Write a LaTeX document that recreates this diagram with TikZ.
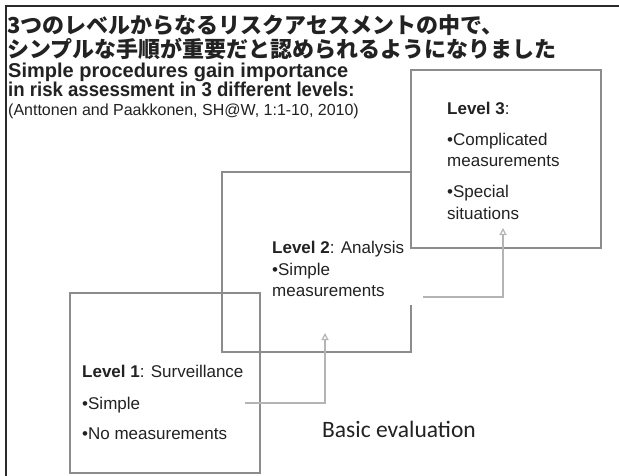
\documentclass[tikz,border=0pt]{standalone}
\usepackage{fontspec}
\usepackage{graphicx}
\setmainfont{Liberation Sans}
\newfontfamily\jp{Noto Sans CJK JP}
\newfontfamily\calib{Carlito}
\usetikzlibrary{arrows.meta}
\definecolor{frameC}{HTML}{2A2A2A}
\definecolor{boxC}{HTML}{8C8C8C}
\definecolor{arrC}{HTML}{B4B4B4}
\definecolor{txtC}{HTML}{222222}
\tikzset{
  lvlbox/.style={draw=boxC, line width=1.3pt},
  flow/.style={draw=arrC, line width=1.2pt, -{Triangle[open, length=7pt, width=7pt]}},
  bodytxt/.style={anchor=base west, inner sep=0pt, text=txtC, font=\fontsize{17}{20}\selectfont},
  jptxt/.style={anchor=base west, inner sep=0pt, text=txtC, font=\jp\bfseries\fontsize{22}{24}\selectfont},
  entxt/.style={anchor=base west, inner sep=0pt, text=txtC, text height=14.5pt, text depth=4.2pt, font=\bfseries\fontsize{20}{22}\selectfont},
}
\begin{document}
\begin{tikzpicture}[x=1pt,y=-1pt]
\useasboundingbox (0,0) rectangle (619,476);
\fill[white] (0,0) rectangle (619,476);
% outer frame
\draw[frameC, line width=2.4pt] (6,480) -- (6,6) -- (625,6);
% titles
\node[jptxt] (jp1) at (7,34) {3つのレベルからなるリスクアセスメントの中で、};
\node[jptxt] (jp2) at (7,58) {シンプルな手順が重要だと認められるようになりました};
\node[entxt] (en1) at (8,77.5) {Simple procedures gain importance};
\node[entxt] (en2) at (8,97) {\scalebox{0.93}[1]{in risk assessment in 3 different levels:}};
\node[anchor=base west, inner sep=0pt, text=txtC, text height=11.5pt, text depth=3pt, font=\fontsize{16}{18}\selectfont] (cite) at (8,116) {(Anttonen and Paakkonen, SH@W, 1:1-10, 2010)};
% boxes
\coordinate (b3nw) at (411,70);
\coordinate (b3se) at (601,248);
\draw[lvlbox] (b3nw) rectangle (b3se);
\coordinate (b2a) at (411,305);
\coordinate (b2b) at (411,352);
\coordinate (b2c) at (222,352);
\coordinate (b2d) at (222,172);
\coordinate (b2e) at (411,172);
\draw[lvlbox] (b2a) -- (b2b) -- (b2c) -- (b2d) -- (b2e);
\coordinate (b1nw) at (70,293);
\coordinate (b1se) at (260,473);
\draw[lvlbox] (b1nw) rectangle (b1se);
% box 3 text
\node[bodytxt] (l3) at (447,115) {\textbf{Level 3}:};
\node[bodytxt] (l3a) at (447,146) {•Complicated};
\node[bodytxt] (l3b) at (447,167) {measurements};
\node[bodytxt] (l3c) at (447,198) {•Special};
\node[bodytxt] (l3d) at (447,219) {situations};
% box 2 text
\node[bodytxt] (l2) at (272,254) {\textbf{Level 2}: Analysis};
\node[bodytxt] (l2a) at (272,276) {•Simple};
\node[bodytxt] (l2b) at (272,296) {measurements};
% box 1 text
\node[bodytxt] (l1) at (82,377) {\textbf{Level 1}: Surveillance};
\node[bodytxt] (l1a) at (82,409) {•Simple};
\node[bodytxt] (l1b) at (82,439) {•No measurements};
% basic evaluation
\node[anchor=base west, inner sep=0pt, text=txtC, font=\calib\fontsize{23.5}{26}\selectfont] (basic) at (322,437) {Basic evaluation};
% arrows
\coordinate (a1s) at (245,403);
\coordinate (a1e) at (325,333);
\coordinate (a2s) at (423,297);
\coordinate (a2e) at (503,228);
\draw[flow] (a1s) -| (a1e);
\draw[flow] (a2s) -| (a2e);
\end{tikzpicture}
\end{document}
